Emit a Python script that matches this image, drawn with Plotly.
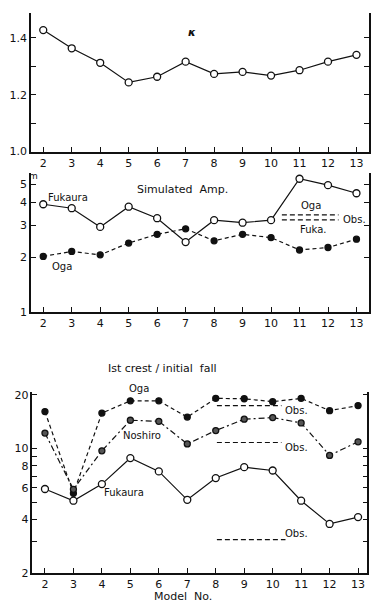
import plotly.graph_objects as go
import math

models = [2, 3, 4, 5, 6, 7, 8, 9, 10, 11, 12, 13]

kappa = [1.427, 1.363, 1.312, 1.243, 1.263, 1.316, 1.273, 1.280, 1.267, 1.286, 1.316, 1.340]

amp_fukaura = [3.90, 3.71, 2.93, 3.78, 3.27, 2.42, 3.19, 3.09, 3.19, 5.38, 4.96, 4.48]
amp_oga = [2.02, 2.15, 2.06, 2.39, 2.67, 2.86, 2.46, 2.67, 2.56, 2.19, 2.26, 2.51]
amp_obs_x = [10.38, 12.37]
amp_obs_oga = 3.41
amp_obs_fuka = 3.20

crest_oga = [16.1, 5.6, 15.8, 18.5, 18.5, 15.0, 19.1, 19.0, 18.3, 19.1, 16.3, 17.4]
crest_noshiro = [12.2, 5.9, 9.7, 14.4, 14.2, 10.6, 12.6, 14.6, 14.9, 13.9, 9.14, 10.9]
crest_fukaura = [5.92, 5.09, 6.31, 8.83, 7.43, 5.15, 6.82, 7.85, 7.52, 5.09, 3.77, 4.12]
crest_obs_x = [8.04, 10.31]
crest_obs_x_fuk = [8.04, 10.45]
crest_obs_oga = 17.4
crest_obs_noshiro = 10.8
crest_obs_fukaura = 3.08

FONT = "DejaVu Sans"
BLACK = "#111111"

fig = go.Figure()

def line_trace(x, y, xa, ya, dash, mfill, msize=7, mode="lines+markers"):
    return go.Scatter(
        x=x, y=y, xaxis=xa, yaxis=ya, mode=mode,
        line=dict(color=BLACK, width=1.2, dash=dash),
        marker=dict(symbol="circle", size=msize, color=mfill,
                    line=dict(color=BLACK, width=1.3)),
        showlegend=False, cliponaxis=False,
    )

# Panel 1: kappa
fig.add_trace(line_trace(models, kappa, "x", "y", "solid", "white"))

# Panel 2: simulated amplitude
fig.add_trace(line_trace(models, amp_oga, "x2", "y2", "4px,3px", BLACK, msize=6))
fig.add_trace(line_trace(models, amp_fukaura, "x2", "y2", "solid", "white"))
fig.add_trace(go.Scatter(x=amp_obs_x, y=[amp_obs_oga] * 2, xaxis="x2", yaxis="y2", mode="lines",
                         line=dict(color=BLACK, width=1.2, dash="5px,3px"), showlegend=False))
fig.add_trace(go.Scatter(x=amp_obs_x, y=[amp_obs_fuka] * 2, xaxis="x2", yaxis="y2", mode="lines",
                         line=dict(color=BLACK, width=1.2, dash="5px,3px"), showlegend=False))

# Panel 3: 1st crest / initial fall
fig.add_trace(line_trace(models, crest_oga, "x3", "y3", "4px,3px", BLACK, msize=6))
fig.add_trace(line_trace(models, crest_noshiro, "x3", "y3", "6px,3px,2px,3px", "#555555", msize=6))
fig.add_trace(line_trace(models, crest_fukaura, "x3", "y3", "solid", "white"))
for xs, yv in [(crest_obs_x, crest_obs_oga), (crest_obs_x, crest_obs_noshiro), (crest_obs_x_fuk, crest_obs_fukaura)]:
    fig.add_trace(go.Scatter(x=xs, y=[yv] * 2, xaxis="x3", yaxis="y3", mode="lines",
                             line=dict(color=BLACK, width=1.2, dash="5px,3px"), showlegend=False))

tickfont = dict(family=FONT, size=11, color=BLACK)

def xaxis(domain, rng, anchor):
    return dict(domain=domain, range=rng, anchor=anchor, tickvals=models,
                ticktext=[str(m) for m in models], ticks="inside", ticklen=5,
                tickwidth=1, tickcolor=BLACK, showline=True, linecolor=BLACK,
                linewidth=1.5, mirror=False, showgrid=False, zeroline=False,
                tickfont=tickfont, fixedrange=True)

def yaxis(domain, rng, anchor, tickvals, ticktext, typ="linear"):
    return dict(domain=domain, range=rng, anchor=anchor, type=typ, tickvals=tickvals,
                ticktext=ticktext, ticks="inside", ticklen=5, tickwidth=1,
                tickcolor=BLACK, showline=True, linecolor=BLACK, linewidth=1.5,
                mirror="ticks", showgrid=False, zeroline=False, tickfont=tickfont,
                fixedrange=True)

fig.update_layout(
    width=374, height=602,
    margin=dict(l=31, r=3, t=13, b=29),
    paper_bgcolor="white", plot_bgcolor="white",
    font=dict(family=FONT, size=11, color=BLACK),
    xaxis=xaxis([0, 1], [1.57, 13.44], "y"),
    yaxis=yaxis([0.7525, 1.0], [1.0, 1.487], "x",
                [1.0, 1.1, 1.2, 1.3, 1.4], ["1.0", "", "1.2", "", "1.4"]),
    xaxis2=xaxis([0, 1], [1.57, 13.44], "y2"),
    yaxis2=yaxis([0.4658, 0.7139], [0, 0.761], "x2",
                 [1, 2, 3, 4, 5], ["1", "2", "3", "4", "5"], typ="log"),
    xaxis3=xaxis([0.004, 0.995], [1.557, 13.325], "y3"),
    yaxis3=yaxis([0, 0.3236], [math.log10(2), 1.318], "x3",
                 [2, 3, 4, 5, 6, 7, 8, 9, 10, 20],
                 ["2", "", "4", "", "6", "", "8", "", "10", "20"], typ="log"),
)

def ann(text, x, y, xref, yref, size=11, xanchor="center", italic=False):
    fig.add_annotation(text=text, x=x, y=y, xref=xref, yref=yref, showarrow=False,
                       xanchor=xanchor, yanchor="middle",
                       font=dict(family=FONT, size=size, color=BLACK,
                                 style="italic" if italic else "normal"))

# Panel 1 label
ann("<b>κ</b>", 7.23, 1.42, "x", "y", size=11, italic=True)

# Panel 2 labels (log axis -> log10 positions)
ann("m", 0.008, 0.709, "paper", "paper", size=9)
ann("Simulated  Amp.", 6.88, math.log10(4.67), "x2", "y2", size=11)
ann("Fukaura", 2.86, math.log10(4.22), "x2", "y2", size=10)
ann("Oga", 2.65, math.log10(1.77), "x2", "y2", size=10)
ann("Oga", 11.39, math.log10(3.83), "x2", "y2", size=10)
ann("Obs.", 12.44, math.log10(3.22), "x2", "y2", size=10, xanchor="left")
ann("Fuka.", 11.47, math.log10(2.85), "x2", "y2", size=10)

# Panel 3 labels
ann("Ist crest / initial  fall", 6.12, 0.3647, "x3", "paper", size=11)
ann("Oga", 5.32, 0.329, "x3", "paper", size=10)
ann("Noshiro", 5.42, math.log10(11.8), "x3", "y3", size=10)
ann("Fukaura", 4.79, math.log10(5.64), "x3", "y3", size=10)
ann("Obs.", 10.38, math.log10(16.3), "x3", "y3", size=10, xanchor="left")
ann("Obs.", 10.38, math.log10(10.1), "x3", "y3", size=10, xanchor="left")
ann("Obs.", 10.38, math.log10(3.32), "x3", "y3", size=10, xanchor="left")

# x-axis title
ann("Model  No.", 0.45, -0.042, "paper", "paper", size=11)

fig.write_html("out.html")
